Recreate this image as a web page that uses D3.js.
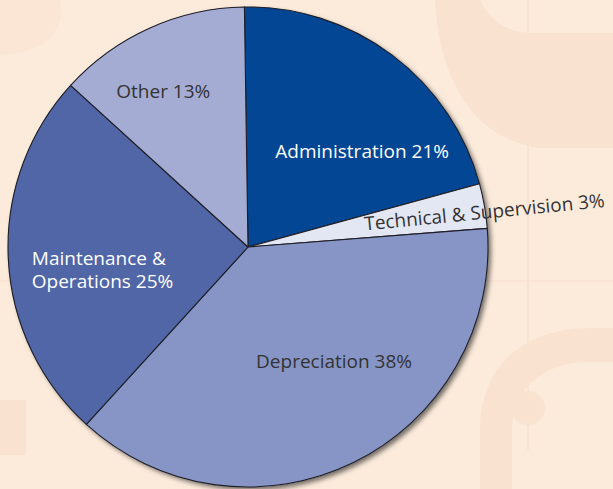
<!DOCTYPE html>
<html>
<head>
<meta charset="utf-8">
<script src="https://cdn.jsdelivr.net/npm/d3@7"></script>
<style>
  html, body { margin: 0; padding: 0; background: #fcebdb; }
  svg { display: block; }
  text { font-family: 'Open Sans', 'Noto Sans', sans-serif; }
</style>
</head>
<body>
<svg id="container" width="613" height="489"></svg>
<script>
const categories = ['Administration', 'Technical & Supervision', 'Depreciation', 'Maintenance & Operations', 'Other']
const shares = [21, 3, 38, 25, 13]
const colors = ['#034693', '#e3e6f3', '#8795c6', '#5066a7', '#a5acd3']

// label placement: angle (deg, clockwise from top), distance from centre, lines, colour
const labelSpots = [
  { a: 50, r: 149, lines: ['Administration 21%'], fill: '#ffffff' },
  { a: 81.6, r: 239, lines: ['Technical & Supervision 3%'], fill: '#333333', rot: -5.6 },
  { a: 143, r: 143, lines: ['Depreciation 38%'], fill: '#333333' },
  { a: 261, r: 146, lines: ['Maintenance &', 'Operations 25%'], fill: '#ffffff' },
  { a: 331.4, r: 177, lines: ['Other 13%'], fill: '#333333' }
]

const W = 613
const H = 489
const cx = 248
const cy = 247
const radius = 240
const svg = d3.select('#container')

// faint background ornaments
const bg = svg.append('g').attr('fill', '#fae2d0').attr('stroke', 'none')
bg.append('rect').attr('x', 0).attr('y', 0).attr('width', W).attr('height', H).attr('fill', '#fcebdb')
bg.append('path')
  .attr('d', 'M480,0 C490,20 505,33 535,33 L613,33 L613,148 L540,148 C480,140 440,90 435,0 Z')
bg.append('path')
  .attr('d', 'M0,0 L60,0 C65,30 50,52 0,55 Z')
  .attr('opacity', 0.5)
bg.append('rect').attr('x', 0).attr('y', 400).attr('width', 26).attr('height', 55)
bg.append('path')
  .attr('d', 'M480,489 L480,430 C480,370 520,328 590,328 L613,328 L613,362 L590,362 C540,362 512,392 512,430 L512,489 Z')
bg.append('circle').attr('cx', 528).attr('cy', 408).attr('r', 17)
bg.append('line').attr('x1', 528).attr('x2', 528).attr('y1', 0).attr('y2', 450)
  .attr('stroke', '#f9e2d0').attr('stroke-width', 1.5)
bg.append('line').attr('x1', 0).attr('x2', W).attr('y1', 281).attr('y2', 281)
  .attr('stroke', '#f9e2d0').attr('stroke-width', 1.5)

const defs = svg.append('defs')
const shadow = defs.append('filter').attr('id', 'shadow')
  .attr('x', '-10%').attr('y', '-10%').attr('width', '130%').attr('height', '130%')
shadow.append('feDropShadow')
  .attr('dx', 3).attr('dy', 3).attr('stdDeviation', 2.5)
  .attr('flood-color', '#000').attr('flood-opacity', 0.55)

const pie = d3.pie().sort(null).value((d) => d)
  .startAngle(-0.015).endAngle(2 * Math.PI - 0.015)
const arcs = pie(shares)
const arc = d3.arc().innerRadius(0).outerRadius(radius)

const g = svg.append('g').attr('transform', `translate(${cx},${cy})`)

g.append('circle').attr('r', radius).attr('fill', '#8795c6').attr('filter', 'url(#shadow)')

g.selectAll('path.slice')
  .data(arcs)
  .enter()
  .append('path')
  .attr('class', 'slice')
  .attr('d', arc)
  .attr('fill', (d, i) => colors[i])
  .attr('stroke', '#1e1e26')
  .attr('stroke-width', 1.1)
  .attr('stroke-linejoin', 'round')

const toRad = (deg) => (deg * Math.PI) / 180
const labels = g.selectAll('text.label')
  .data(labelSpots)
  .enter()
  .append('text')
  .attr('class', 'label')
  .attr('transform', (d) => {
    const x = Math.sin(toRad(d.a)) * d.r
    const y = -Math.cos(toRad(d.a)) * d.r
    return `translate(${x},${y}) rotate(${d.rot || 0})`
  })
  .attr('text-anchor', 'middle')
  .attr('fill', (d) => d.fill)
  .style('font-size', '19px')

labels.selectAll('tspan')
  .data((d) => d.lines.map((t, k) => ({ t, k, n: d.lines.length })))
  .enter()
  .append('tspan')
  .attr('x', 0)
  .attr('y', (d) => (d.k - (d.n - 1) / 2) * 23)
  .attr('dy', '0.35em')
  .text((d) => d.t)

// multi-line label is left aligned
labels.filter((d) => d.lines.length > 1).attr('text-anchor', 'start')
  .selectAll('tspan').attr('x', -72)
</script>
</body>
</html>
